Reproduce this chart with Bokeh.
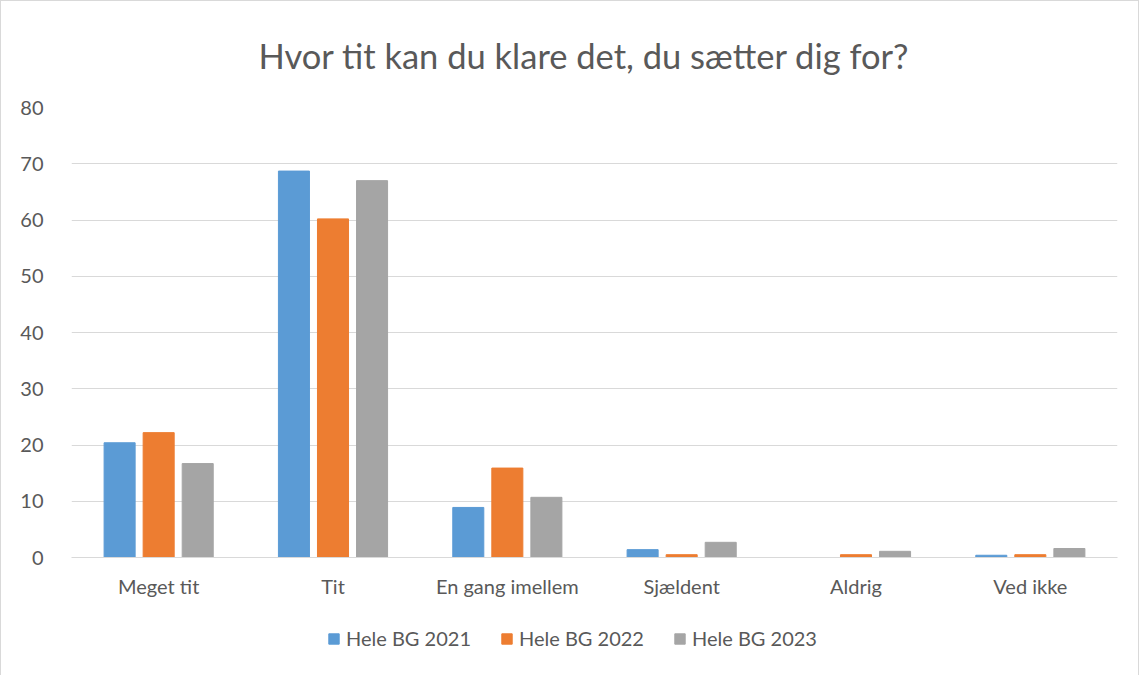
from bokeh.plotting import figure
from bokeh.layouts import column
from bokeh.models import FactorRange, Range1d, Legend, LegendItem, ColumnDataSource, SingleIntervalTicker
from bokeh.transform import dodge
from bokeh.embed import file_html
from bokeh.resources import INLINE

categories = ["Meget tit", "Tit", "En gang imellem", "Sjældent", "Aldrig", "Ved ikke"]
series_names = ["Hele BG 2021", "Hele BG 2022", "Hele BG 2023"]
v2021 = [20.4, 68.7, 8.9, 1.4, 0.0, 0.4]
v2022 = [22.2, 60.2, 15.9, 0.5, 0.5, 0.5]
v2023 = [16.7, 67.0, 10.7, 2.7, 1.1, 1.6]
colors = ["#5b9bd5", "#ed7d31", "#a5a5a5"]

src = ColumnDataSource(dict(cat=categories, a=v2021, b=v2022, c=v2023))

FONT = "Lato"
TXT = "#595959"

p = figure(x_range=FactorRange(factors=categories, range_padding=0),
           y_range=Range1d(0, 80),
           frame_width=1046, frame_height=450, output_backend="svg", toolbar_location=None,
           min_border_left=70, min_border_right=21, min_border_top=106, min_border_bottom=0)

renderers = []
for key, off, col in zip(["a", "b", "c"], [-0.224, 0.0, 0.224], colors):
    r = p.vbar(x=dodge("cat", off, range=p.x_range), top=key, width=0.178, source=src,
               fill_color=col, line_color=col)
    renderers.append(r)

p.title.text = "Hvor tit kan du klare det, du sætter dig for?"
p.title.align = "left"
p.title.offset = 187
p.title.standoff = 63
p.title.text_font = FONT
p.title.text_font_size = "34.5px"
p.title.text_font_style = "normal"
p.title.text_color = TXT

p.outline_line_color = None
p.xgrid.grid_line_color = None
p.ygrid.grid_line_color = "#d9d9d9"
p.ygrid.grid_line_width = 1
p.yaxis.ticker = SingleIntervalTicker(interval=10)
p.yaxis.axis_line_color = None
p.yaxis.major_tick_line_color = None
p.yaxis.minor_tick_line_color = None
p.yaxis.major_label_standoff = 22
p.xaxis.axis_line_color = "#d9d9d9"
p.xaxis.major_tick_line_color = None
p.xaxis.minor_tick_line_color = None
p.xaxis.major_label_standoff = 10
for ax in [p.xaxis[0], p.yaxis[0]]:
    ax.major_label_text_font = FONT
    ax.major_label_text_font_size = "20px"
    ax.major_label_text_color = TXT

# legend strip below the chart (swatch glyphs placed outside its visible range)
lg = figure(x_range=Range1d(0, 1), y_range=Range1d(0, 1), width=1137, height=78,
            output_backend="svg", toolbar_location=None,
            min_border_left=0, min_border_right=0, min_border_top=0, min_border_bottom=0)
lg.axis.visible = False
lg.grid.visible = False
lg.outline_line_color = None
dummy = ColumnDataSource(dict(x=[-5.0], top=[-5.0]))
leg_r = [lg.vbar(x="x", top="top", width=0.1, source=dummy, fill_color=c, line_color=c) for c in colors]
legend = Legend(items=[LegendItem(label=n, renderers=[r]) for n, r in zip(series_names, leg_r)],
                orientation="horizontal", location=(256, 28),
                label_text_font=FONT, label_text_font_size="20px", label_text_color=TXT,
                glyph_width=13, glyph_height=13, label_standoff=6, spacing=29,
                border_line_color=None, background_fill_alpha=0, margin=0, padding=4)
lg.add_layout(legend, "center")

layout = column(p, lg, spacing=0)
layout.styles = {"border": "1px solid #d9d9d9"}

open("out.html", "w").write(file_html(layout, INLINE))
